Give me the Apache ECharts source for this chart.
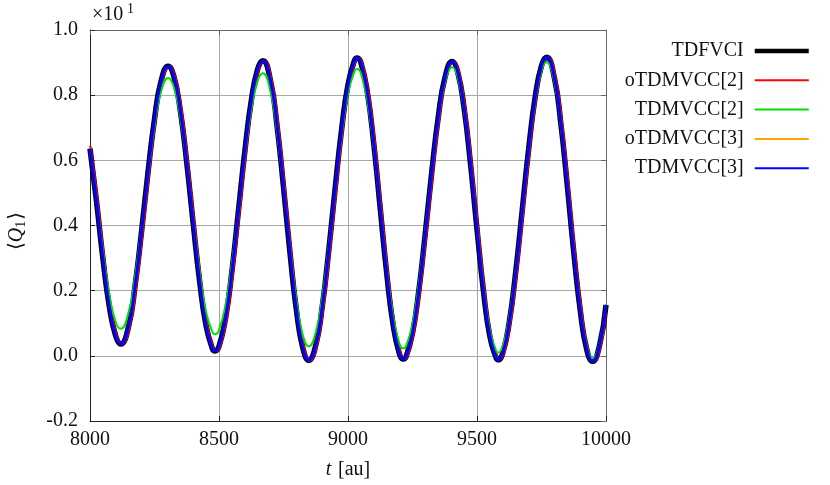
<!DOCTYPE html>
<html>
<head>
<meta charset="utf-8">
<script src="https://cdn.jsdelivr.net/npm/echarts@6/dist/echarts.min.js"></script>
<style>
html,body{margin:0;padding:0;background:#fff;}
#c{width:830px;height:485px;}
</style>
</head>
<body>
<div id="c"></div>
<script>
// time samples [au]
const times = [8000,8025,8050,8075,8100,8119,8150,8175,8200,8225,8250,8275,8303,8325,8350,8375,8400,8425,8450,8475,8485,8500,8525,8550,8575,8600,8625,8650,8670,8700,8725,8750,8775,8800,8825,8848,8875,8900,8925,8950,8975,9000,9025,9036,9050,9075,9100,9125,9150,9175,9200,9214,9225,9250,9275,9300,9325,9350,9375,9404,9425,9450,9475,9500,9525,9550,9575,9582,9600,9625,9650,9675,9700,9725,9750,9770,9800,9825,9850,9875,9900,9925,9948,9975,10000];
const tdfvci = [0.636,0.476,0.299,0.151,0.060,0.036,0.092,0.217,0.383,0.564,0.726,0.841,0.889,0.858,0.753,0.593,0.407,0.229,0.092,0.021,0.015,0.029,0.114,0.259,0.442,0.626,0.782,0.880,0.906,0.843,0.706,0.519,0.318,0.141,0.024,-0.014,0.032,0.150,0.320,0.512,0.693,0.832,0.906,0.914,0.900,0.809,0.650,0.452,0.254,0.095,0.004,-0.010,-0.003,0.069,0.203,0.379,0.566,0.733,0.851,0.903,0.872,0.760,0.588,0.389,0.200,0.059,-0.008,-0.012,0.009,0.103,0.257,0.444,0.633,0.791,0.890,0.916,0.853,0.713,0.523,0.319,0.141,0.021,-0.017,0.032,0.156];
const tdmvcc2 = [0.625,0.481,0.321,0.187,0.103,0.083,0.135,0.246,0.396,0.559,0.706,0.810,0.853,0.825,0.730,0.586,0.419,0.259,0.135,0.072,0.066,0.079,0.155,0.285,0.450,0.615,0.756,0.844,0.867,0.810,0.684,0.514,0.331,0.171,0.063,0.029,0.072,0.180,0.335,0.512,0.677,0.805,0.873,0.880,0.867,0.782,0.635,0.451,0.268,0.121,0.036,0.023,0.030,0.097,0.225,0.391,0.568,0.725,0.838,0.886,0.856,0.749,0.585,0.394,0.213,0.078,0.014,0.010,0.030,0.120,0.268,0.447,0.629,0.781,0.876,0.901,0.839,0.703,0.519,0.320,0.146,0.030,-0.007,0.040,0.159];
const otdmvcc3 = [0.636,0.476,0.299,0.151,0.060,0.036,0.092,0.217,0.383,0.564,0.726,0.841,0.889,0.858,0.753,0.593,0.407,0.229,0.092,0.021,0.015,0.029,0.114,0.259,0.442,0.626,0.782,0.880,0.906,0.843,0.706,0.519,0.318,0.141,0.024,-0.014,0.032,0.150,0.320,0.512,0.693,0.832,0.906,0.914,0.900,0.809,0.650,0.452,0.254,0.095,0.004,-0.010,-0.003,0.069,0.203,0.379,0.566,0.733,0.851,0.903,0.872,0.760,0.588,0.389,0.200,0.059,-0.008,-0.012,0.009,0.103,0.257,0.444,0.633,0.791,0.890,0.916,0.853,0.713,0.523,0.319,0.141,0.021,-0.017,0.032,0.156];
const tdmvcc3 = [0.636,0.476,0.299,0.151,0.060,0.036,0.092,0.217,0.383,0.564,0.726,0.841,0.889,0.858,0.753,0.593,0.407,0.229,0.092,0.021,0.015,0.029,0.114,0.259,0.442,0.626,0.782,0.880,0.906,0.843,0.706,0.519,0.318,0.141,0.024,-0.014,0.032,0.150,0.320,0.512,0.693,0.832,0.906,0.914,0.900,0.809,0.650,0.452,0.254,0.095,0.004,-0.010,-0.003,0.069,0.203,0.379,0.566,0.733,0.851,0.903,0.872,0.760,0.588,0.389,0.200,0.059,-0.008,-0.012,0.009,0.103,0.257,0.444,0.633,0.791,0.890,0.916,0.853,0.713,0.523,0.319,0.141,0.021,-0.017,0.032,0.156];
// oTDMVCC[2] lags slightly behind the reference
const timesRed = [8000,8005,8030,8055,8080,8105,8124,8155,8180,8205,8230,8255,8280,8308,8330,8355,8380,8405,8430,8455,8480,8490,8505,8530,8555,8580,8605,8630,8655,8675,8705,8730,8755,8780,8805,8830,8853,8880,8905,8930,8955,8980,9005,9030,9041,9055,9080,9105,9130,9155,9180,9205,9219,9230,9255,9280,9305,9330,9355,9380,9409,9430,9455,9480,9505,9530,9555,9580,9587,9605,9630,9655,9680,9705,9730,9755,9775,9805,9830,9855,9880,9905,9930,9953,9980,10000];
const otdmvcc2 = [0.645,0.630,0.476,0.299,0.151,0.060,0.036,0.092,0.217,0.383,0.564,0.726,0.841,0.889,0.858,0.753,0.593,0.407,0.229,0.092,0.021,0.015,0.029,0.114,0.259,0.442,0.626,0.782,0.880,0.906,0.843,0.706,0.519,0.318,0.141,0.024,-0.014,0.032,0.150,0.320,0.512,0.693,0.832,0.906,0.914,0.900,0.809,0.650,0.452,0.254,0.095,0.004,-0.010,-0.003,0.069,0.203,0.379,0.566,0.733,0.851,0.903,0.872,0.760,0.588,0.389,0.200,0.059,-0.008,-0.012,0.009,0.103,0.257,0.444,0.633,0.791,0.890,0.916,0.853,0.713,0.523,0.319,0.141,0.021,-0.017,0.032,0.132];

const seriesNames = ['TDFVCI','oTDMVCC[2]','TDMVCC[2]','oTDMVCC[3]','TDMVCC[3]'];
const xTicks = [8000, 8500, 9000, 9500, 10000];
const yTicks = [-0.2, 0.0, 0.2, 0.4, 0.6, 0.8, 1.0];

const FONT = '"Liberation Serif", "DejaVu Serif", serif';
const pair = (t, v) => t.map((x, i) => [x, v[i]]);
const noSym = {opacity: 0, color: 'transparent', borderWidth: 0};

const chart = echarts.init(document.getElementById('c'), null, {renderer: 'canvas'});
chart.setOption({
  animation: false,
  backgroundColor: '#fff',
  grid: {left: 90, right: 224, top: 30, bottom: 64, containLabel: false},
  xAxis: [{
    type: 'value', min: xTicks[0], max: xTicks[xTicks.length-1], interval: 500,
    position: 'bottom',
    axisLine: {show: true, onZero: false, lineStyle: {color: '#222', width: 1}},
    axisTick: {show: true, inside: true, length: 5, lineStyle: {color: '#222'}},
    axisLabel: {margin: 9, color: '#111', fontFamily: FONT, fontSize: 20,
      formatter: v => String(v)},
    splitLine: {show: true, lineStyle: {color: '#a8a8a8', width: 1}}
  }, {
    type: 'value', min: xTicks[0], max: xTicks[xTicks.length-1], interval: 500,
    position: 'top',
    axisLine: {show: true, onZero: false, lineStyle: {color: '#666', width: 1}},
    axisTick: {show: true, inside: true, length: 5, lineStyle: {color: '#666'}},
    axisLabel: {show: false}, splitLine: {show: false}
  }],
  yAxis: [{
    type: 'value', min: yTicks[0], max: yTicks[yTicks.length-1], interval: 0.2,
    position: 'left',
    axisLine: {show: true, onZero: false, lineStyle: {color: '#222', width: 1}},
    axisTick: {show: true, inside: true, length: 5, lineStyle: {color: '#222'}},
    axisLabel: {margin: 12, color: '#111', fontFamily: FONT, fontSize: 20,
      formatter: v => v.toFixed(1)},
    splitLine: {show: true, lineStyle: {color: '#a8a8a8', width: 1}}
  }, {
    type: 'value', min: yTicks[0], max: yTicks[yTicks.length-1], interval: 0.2,
    position: 'right',
    axisLine: {show: true, onZero: false, lineStyle: {color: '#666', width: 1}},
    axisTick: {show: true, inside: true, length: 5, lineStyle: {color: '#666'}},
    axisLabel: {show: false}, splitLine: {show: false}
  }],
  legend: {
    orient: 'vertical', right: 14, top: 36,
    itemWidth: 54, itemHeight: 14, itemGap: 9.3,
    align: 'right',
    itemStyle: noSym,
    textStyle: {fontFamily: FONT, fontSize: 20, lineHeight: 20, color: '#111', padding: [0, 6, 0, 0]},
    data: [
      {name: seriesNames[0], lineStyle: {width: 4.5}, itemStyle: noSym},
      {name: seriesNames[1], itemStyle: noSym},
      {name: seriesNames[2], itemStyle: noSym},
      {name: seriesNames[3], itemStyle: noSym},
      {name: seriesNames[4], itemStyle: noSym}
    ]
  },
  graphic: [
    {type: 'text', left: 92, top: 5, style: {text: '×10', fontFamily: FONT, fontSize: 20, fill: '#111'}},
    {type: 'text', left: 127, top: 2, style: {text: '1', fontFamily: FONT, fontSize: 14, fill: '#111'}},
    {type: 'text', x: 17, y: 231, rotation: Math.PI / 2,
      style: {
        text: '{a|⟨}{q|Q}{s|1}{a|⟩}',
        align: 'center', verticalAlign: 'middle',
        rich: {
          a: {fontFamily: FONT, fontSize: 20, fill: '#111'},
          q: {fontFamily: FONT, fontSize: 20, fontStyle: 'italic', fill: '#111'},
          s: {fontFamily: FONT, fontSize: 14, fill: '#111', padding: [8, 1, 0, 0]}
        }
      }},
    {type: 'text', x: 348, y: 470,
      style: {
        text: '{i|t}  {a|[au]}', align: 'center', verticalAlign: 'middle',
        rich: {
          i: {fontFamily: FONT, fontSize: 20, fontStyle: 'italic', fill: '#111'},
          a: {fontFamily: FONT, fontSize: 20, fill: '#111'}
        }
      }}
  ],
  series: [
    {name: seriesNames[0], type: 'line', data: pair(times, tdfvci), smooth: true, symbol: 'none',
      lineStyle: {color: '#000', width: 5.5}, itemStyle: {color: '#000'}, z: 2},
    {name: seriesNames[1], type: 'line', data: pair(timesRed, otdmvcc2), smooth: true, symbol: 'none',
      lineStyle: {color: '#ff0000', width: 2}, itemStyle: {color: '#ff0000'}, z: 3},
    {name: seriesNames[2], type: 'line', data: pair(times, tdmvcc2), smooth: true, symbol: 'none',
      lineStyle: {color: '#00e000', width: 2}, itemStyle: {color: '#00e000'}, z: 4},
    {name: seriesNames[3], type: 'line', data: pair(times, otdmvcc3), smooth: true, symbol: 'none',
      lineStyle: {color: '#ffa500', width: 2}, itemStyle: {color: '#ffa500'}, z: 5},
    {name: seriesNames[4], type: 'line', data: pair(times, tdmvcc3), smooth: true, symbol: 'none',
      lineStyle: {color: '#0000ff', width: 3}, itemStyle: {color: '#0000ff'}, z: 6}
  ]
});
</script>
</body>
</html>
